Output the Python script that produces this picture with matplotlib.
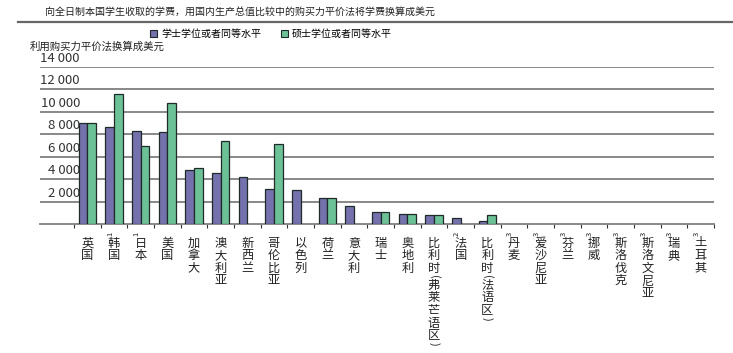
import numpy as np
import matplotlib
matplotlib.use("Agg")
import matplotlib.pyplot as plt
from matplotlib.lines import Line2D
from matplotlib.patches import Patch
from matplotlib.transforms import blended_transform_factory

plt.rcParams['font.family'] = ['Noto Sans CJK SC', 'DejaVu Sans']

# data
countries = ["英国", "韩国", "日本", "美国", "加拿大", "澳大利亚", "新西兰", "哥伦比亚",
             "以色列", "荷兰", "意大利", "瑞士", "奥地利", "比利时(弗莱芒语区)", "法国",
             "比利时(法语区)", "丹麦", "爱沙尼亚", "芬兰", "挪威", "斯洛伐克", "斯洛文尼亚",
             "瑞典", "土耳其"]
notes = ["", "1", "1", "", "", "", "", "", "", "", "", "", "", "", "2", "",
         "3", "3", "3", "3", "3", "3", "3", "3"]
bachelor = [8950, 8600, 8270, 8180, 4770, 4530, 4200, 3140, 2990, 2340, 1630, 1100,
            920, 770, 560, 240, 0, 0, 0, 0, 0, 0, 0, 0]
master = [8950, 11530, 6960, 10780, 5010, 7380, 0, 7140, 0, 2340, 0, 1100,
          920, 770, 0, 770, 0, 0, 0, 0, 0, 0, 0, 0]
yticks = [2000, 4000, 6000, 8000, 10000, 12000, 14000]

title = "向全日制本国学生收取的学费，用国内生产总值比较中的购买力平价法将学费换算成美元"
ylabel = "利用购买力平价法换算成美元"
series_names = ["学士学位或者同等水平", "硕士学位或者同等水平"]
c_bach = "#7571ad"
c_mast = "#6cc196"
edge = "#1f2b2b"
grid = "#7f7f7f"

W, H = 733, 353
fig = plt.figure(figsize=(W / 100, H / 100), dpi=100)
fig.patch.set_facecolor("white")

# axes: left 40px, right 714px, baseline at 224px, 14000 at 66.7px
ax = fig.add_axes([40 / W, 1 - 224 / H, (714 - 40) / W, (224 - 66.7) / H])
ax.set_facecolor("none")
n = len(countries)
ax.set_xlim(-0.5 - 34 / 26.67, n - 0.5)
ax.set_ylim(0, 14000)

x = np.arange(n)
bw = 0.32
for i in range(n):
    if bachelor[i] > 0:
        ax.bar(x[i] - bw / 2, bachelor[i], bw, color=c_bach, edgecolor=edge, linewidth=0.9, zorder=3)
    if master[i] > 0:
        ax.bar(x[i] + bw / 2, master[i], bw, color=c_mast, edgecolor=edge, linewidth=0.9, zorder=3)

for v in yticks:
    ax.axhline(v, color=grid, lw=1.3, zorder=1)

for s in ["top", "right", "left"]:
    ax.spines[s].set_visible(False)
ax.spines["bottom"].set_color(grid)
ax.spines["bottom"].set_linewidth(1.3)

ax.set_yticks([])
ax.set_xticks([])
ax.set_xticks(np.arange(-0.5, n, 1.0), minor=True)
ax.tick_params(axis="x", which="minor", length=3, width=0.8, color="#333333", direction="out")

# category names written vertically, one character at a time
for i, c in enumerate(countries):
    off = 13.0
    for ch in c:
        if ch in "()":
            ax.annotate(ch, xy=(x[i], 0), xycoords=("data", "axes fraction"),
                        xytext=(0, -(off + 2.0)), textcoords="offset pixels",
                        fontsize=8, rotation=-90, ha="center", va="center", color="#222222")
            off += 4.5
        else:
            ax.annotate(ch, xy=(x[i], 0), xycoords=("data", "axes fraction"),
                        xytext=(0, -(off + 6.0)), textcoords="offset pixels",
                        fontsize=8.8, ha="center", va="center", color="#222222")
            off += 12.6

# superscript notes, rotated like the source
for i, nt in enumerate(notes):
    if nt:
        ax.annotate(nt, xy=(x[i], 0), xycoords=("data", "axes fraction"),
                    xytext=(-4, -10), textcoords="offset pixels",
                    fontsize=5.5, rotation=90, ha="center", va="center", color="#222222")

# y tick labels sit above the gridlines, inside the plot
tr = blended_transform_factory(ax.transAxes, ax.transData)
for v in yticks:
    ax.annotate("{:,}".format(v).replace(",", " "), xy=(40 / 674, v),
                xycoords=tr, xytext=(0, 2), textcoords="offset pixels",
                ha="right", va="bottom", fontsize=9.5, color="#333333")

fig.text(30 / W, 1 - 47 / H, ylabel, fontsize=7.5, ha="left", va="center", color="#222222")

# title and rule
fig.text(45 / W, 1 - 12 / H, title, fontsize=7.2, ha="left", va="center", color="#222222")
fig.add_artist(Line2D([18 / W, 1.0], [1 - 22 / H, 1 - 22 / H], color="#666666", lw=1.6))

handles = [Patch(facecolor=c_bach, edgecolor=edge, linewidth=0.8),
           Patch(facecolor=c_mast, edgecolor=edge, linewidth=0.8)]
fig.legend(handles, series_names, loc="center left", bbox_to_anchor=(150 / W, 1 - 34 / H),
           ncol=2, frameon=False, fontsize=7.2, handlelength=0.7, handleheight=0.7,
           handletextpad=0.4, columnspacing=2.0, borderpad=0, borderaxespad=0)

fig.savefig("out.png", dpi=100, facecolor=fig.get_facecolor())
